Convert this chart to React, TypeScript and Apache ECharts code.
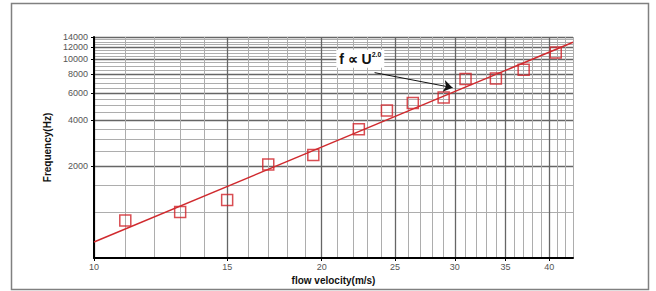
import React, { useEffect, useRef } from 'react';
import * as echarts from 'echarts';

// Measured data (flow velocity in m/s, frequency in Hz)
const velocity = [11.0, 13.0, 15.0, 17.0, 19.5, 22.4, 24.4, 26.4, 29.0, 31.0, 34.0, 37.0, 40.8];
const frequency = [880, 1000, 1200, 2050, 2360, 3490, 4620, 5170, 5630, 7430, 7500, 8550, 11100];

// Fitted power law f ∝ U^2.0 (end points)
const fitVelocity = [10, 43];
const fitFrequency = [636, 12940];

// Axis ranges and ticks
const xRange = [10, 43];
const yRange = [500, 14000];
const xTickLabels = [10, 15, 20, 25, 30, 35, 40];
const yTickLabels = [2000, 4000, 6000, 8000, 10000, 12000, 14000];
const xMinorGrid = [10, 11, 12, 13, 14, 15, 16, 17, 18, 19, 20, 21, 22, 23, 24, 25, 26, 27, 28, 29, 30, 31, 32, 33, 34, 35, 36, 37, 38, 39, 40, 41, 42, 43];
const yMinorGrid = [500, 1000, 1500, 2000, 2500, 3000, 3500, 4000, 4500, 5000, 5500, 6000, 6500, 7000, 7500, 8000, 8500, 9000, 9500, 10000, 10500, 11000, 11500, 12000, 12500, 13000, 13500, 14000];

// Annotation
const annotationText = 'f ∝ U';
const annotationExp = '2.0';
const annotationAt = [22.5, 10100];
const arrowFrom = [23.5, 8180];
const arrowTo = [29.8, 6520];

const L = (v: number) => Math.log10(v);
const FONT = 'Liberation Sans, Arial, sans-serif';
const fmt = (v: number) => String(Math.round(Math.pow(10, v)));

export default function App() {
  const ref = useRef<HTMLDivElement>(null);
  useEffect(() => {
    document.body.style.margin = '0';
    if (!ref.current) return;
    const chart = echarts.init(ref.current, null, { renderer: 'svg' });
    const minorX = {
      type: 'value', position: 'bottom', min: L(xRange[0]), max: L(xRange[1]),
      axisLine: { show: false }, axisLabel: { show: false },
      axisTick: { show: false, customValues: xMinorGrid.map(L) },
      splitLine: { show: true, lineStyle: { color: '#adadad', width: 1 } },
    };
    const majorX = {
      type: 'value', position: 'bottom', min: L(xRange[0]), max: L(xRange[1]),
      axisLine: { show: true, onZero: false, lineStyle: { color: '#000', width: 2 } },
      axisTick: { show: true, length: 3, customValues: xTickLabels.map(L), lineStyle: { color: '#000' } },
      axisLabel: { customValues: xTickLabels.map(L), formatter: fmt, fontSize: 9, color: '#555', fontFamily: FONT, margin: 4 },
      splitLine: { show: true, lineStyle: { color: '#666', width: 1.3 } },
      name: 'flow velocity(m/s)', nameLocation: 'middle', nameGap: 7,
      nameTextStyle: { fontSize: 10, fontWeight: 'bold', color: '#111', fontFamily: FONT },
    };
    const minorY = {
      type: 'value', position: 'left', min: L(yRange[0]), max: L(yRange[1]),
      axisLine: { show: false }, axisLabel: { show: false },
      axisTick: { show: false, customValues: yMinorGrid.map(L) },
      splitLine: { show: true, lineStyle: { color: '#adadad', width: 1 } },
    };
    const majorY = {
      type: 'value', position: 'left', min: L(yRange[0]), max: L(yRange[1]),
      axisLine: { show: true, onZero: false, lineStyle: { color: '#000', width: 2 } },
      axisTick: { show: true, length: 3, customValues: yTickLabels.map(L), lineStyle: { color: '#000' } },
      axisLabel: { customValues: yTickLabels.map(L), formatter: fmt, fontSize: 9, color: '#555', fontFamily: FONT, margin: 6 },
      splitLine: { show: true, lineStyle: { color: '#666', width: 1.3 } },
      name: 'Frequency(Hz)', nameLocation: 'middle', nameGap: 41,
      nameTextStyle: { fontSize: 10, fontWeight: 'bold', color: '#111', fontFamily: FONT },
    };
    chart.setOption({
      animation: false,
      backgroundColor: '#fff',
      grid: { left: 94, right: 83, top: 37, bottom: 33, show: false },
      xAxis: [minorX, majorX],
      yAxis: [minorY, majorY],
      graphic: [
        { type: 'rect', silent: true, shape: { x: 11.5, y: 3.5, width: 637, height: 286 }, style: { fill: 'none', stroke: '#808080', lineWidth: 1.5 } },
      ],
      series: [
        {
          type: 'line', xAxisIndex: 1, yAxisIndex: 1, symbol: 'none', silent: true,
          data: fitVelocity.map((u, i) => [L(u), L(fitFrequency[i])]),
          lineStyle: { color: '#d02a2e', width: 1.5 },
          markLine: {
            silent: true, symbol: ['none', 'arrow'], symbolSize: 9,
            lineStyle: { color: '#111', width: 1, type: 'solid' },
            label: { show: false },
            data: [[{ coord: [L(arrowFrom[0]), L(arrowFrom[1])] }, { coord: [L(arrowTo[0]), L(arrowTo[1])] }]],
          },
          markPoint: {
            silent: true, symbol: 'rect', symbolSize: [48, 18],
            itemStyle: { color: '#fff' },
            data: [{ coord: [L(annotationAt[0]), L(annotationAt[1])] }],
            label: {
              show: true, position: 'inside',
              formatter: `{a|${annotationText}}{b|${annotationExp}}`,
              rich: {
                a: { fontSize: 14, fontWeight: 'bold', color: '#111', fontFamily: FONT, lineHeight: 16 },
                b: { fontSize: 7, fontWeight: 'bold', color: '#111', fontFamily: FONT, verticalAlign: 'top', lineHeight: 16 },
              },
            },
          },
        },
        {
          type: 'scatter', xAxisIndex: 1, yAxisIndex: 1, symbol: 'rect', symbolSize: 11,
          data: velocity.map((u, i) => [L(u), L(frequency[i])]),
          itemStyle: { color: 'rgba(0,0,0,0)', borderColor: '#cf2228', borderWidth: 1.5 },
        },
      ],
    });
    return () => chart.dispose();
  }, []);
  return <div ref={ref} style={{ width: 656, height: 291 }} />;
}
